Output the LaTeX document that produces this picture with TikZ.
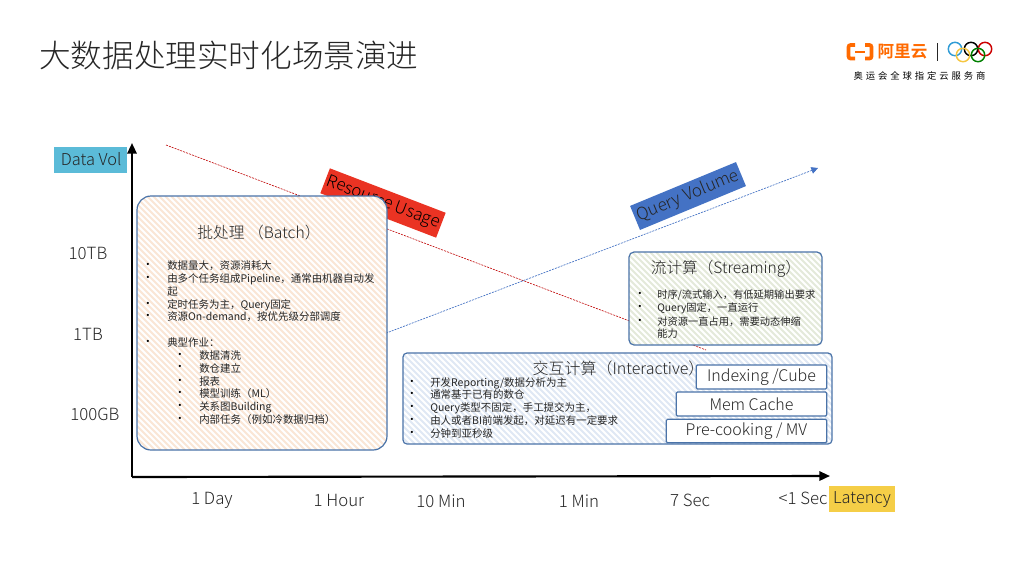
\documentclass[tikz,border=0pt]{standalone}
\usepackage{fontspec}
\setmainfont{Noto Sans CJK SC Light}
\newfontfamily\boldcjk{Noto Sans CJK SC Bold}
\newfontfamily\regcjk{Noto Sans CJK SC}
\usetikzlibrary{arrows.meta}
\definecolor{boxline}{HTML}{4A73A8}
\definecolor{cyanlab}{HTML}{5BBBD8}
\definecolor{yellab}{HTML}{F5CE47}
\definecolor{redlab}{HTML}{EA3323}
\definecolor{bluelab}{HTML}{4472C4}
\definecolor{orng}{HTML}{FF6A00}
\definecolor{txt}{HTML}{262626}
\definecolor{hbatch}{HTML}{FAE6D6}
\definecolor{hinter}{HTML}{E0E8F4}
\definecolor{hstream}{HTML}{E4E9DA}
\tikzset{
  x=0.75pt,y=-0.75pt,
  lab/.style={inner sep=0,text=txt,font=\fontsize{12.6}{13}\selectfont,anchor=center,yshift=-1.2pt},
  ttl/.style={inner sep=0,text=txt,font=\fontsize{12}{13}\selectfont,anchor=center,yshift=-1pt},
  ln/.style={inner sep=0,text=txt,font=\regcjk\fontsize{7.85}{8}\selectfont,anchor=west},
  bul/.style={inner sep=0,text=black,font=\regcjk\fontsize{8}{8}\selectfont,anchor=center},
  tag/.style={inner sep=0,minimum width=#1*0.75pt,minimum height=19.5pt,text=txt,font=\fontsize{12.3}{13}\selectfont,anchor=center},
  tagbox/.style={draw=boxline,line width=0.9pt,fill=white,rounded corners=1pt,inner sep=0,text=txt,font=\fontsize{12}{13}\selectfont},
  panel/.style={draw=boxline,line width=0.9pt},
  axis/.style={draw=black,line width=1.6pt,-{Triangle[length=8pt,width=7pt]}},
  ring/.style={line width=1.1pt},
}
\newcommand{\hatchbox}[6]{% x1,y1,x2,y2,radius,colour
  \begin{scope}
    \path[clip,rounded corners=#5*0.75pt] (#1,#2) rectangle (#3,#4);
    \fill[white] (#1,#2) rectangle (#3,#4);
    \pgfmathsetmacro{\hs}{#1-(#4-#2)}
    \foreach \k in {0,6,...,800}{
      \draw[#6,line width=1.4pt] (\hs+\k,#2) -- (\hs+\k+#4-#2,#4);
    }
  \end{scope}
  \draw[panel,rounded corners=#5*0.75pt] (#1,#2) rectangle (#3,#4);
}
\begin{document}
\begin{tikzpicture}
\useasboundingbox (0,0) rectangle (1024,576);
\fill[white] (0,0) rectangle (1024,576);

\node[inner sep=0,anchor=west,text=txt,font=\fontsize{23.7}{25}\selectfont] (title) at (39,55) {大数据处理实时化场景演进};

% logo
\draw[orng,line width=2.8pt,rounded corners=1.6pt] (855,45) -- (848.5,45) -- (848.5,58.5) -- (855,58.5);
\draw[orng,line width=2.8pt,rounded corners=1.6pt] (865,45) -- (871.5,45) -- (871.5,58.5) -- (865,58.5);
\draw[orng,line width=1.5pt] (855,52) -- (865,52);
\node[inner sep=0,text=orng,font=\boldcjk\fontsize{12.4}{13}\selectfont] (ali) at (902.5,52) {阿里云};
\draw[black!85,line width=0.7pt] (937,43) -- (937,61);
\draw[ring,color=bluelab!70!cyan] (955,49) circle (6.7);
\draw[ring,color=black] (971,49) circle (6.7);
\draw[ring,color=red!80!black] (985,49) circle (6.7);
\draw[ring,color=yellab!90!orange] (963,55) circle (6.7);
\draw[ring,color=green!50!black] (978,55) circle (6.7);
\node[inner sep=0,text=black,font=\regcjk\fontsize{7}{8}\selectfont] (sub) at (919.5,75.5) {奥\hspace{2.2pt}运\hspace{2.2pt}会\hspace{2.2pt}全\hspace{2.2pt}球\hspace{2.2pt}指\hspace{2.2pt}定\hspace{2.2pt}云\hspace{2.2pt}服\hspace{2.2pt}务\hspace{2.2pt}商};

% trend lines and their tags (behind the panels)
\coordinate (rs) at (166,145);
\coordinate (re) at (706,350);
\coordinate (bs) at (300,366);
\coordinate (be) at (818,168);
\node[rotate=-21,fill=redlab,minimum width=93pt,minimum height=20pt,inner sep=0,text=black,font=\fontsize{12.6}{13}\selectfont] (rtag) at (383,203) {\raisebox{-1.6pt}{Resource Usage}};
\draw[red!75!black,line width=0.45pt,dash pattern=on 1.5pt off 0.8pt] (rs) -- (re);
\draw[bluelab,line width=0.5pt,dash pattern=on 1.5pt off 0.8pt,-{Triangle[length=5pt,width=5pt]}] (bs) -- (be);
\node[rotate=22.5,fill=bluelab,minimum width=86pt,minimum height=19.5pt,inner sep=0,text=txt,font=\fontsize{12.8}{13}\selectfont] (btag) at (688,196) {Query Volume};

% axes
\coordinate (org) at (132,477);
\coordinate (yend) at (132,143);
\coordinate (xend) at (830,476);
\draw[axis] (org) -- (yend);
\draw[axis] (org) -- (xend);

% axis tags
\node[tag=73,fill=cyanlab] (dv) at (90.5,159.5) {\hspace{1pt}Data Vol};
\node[tag=66,fill=yellab,minimum height=20pt] (lat) at (862,499) {\raisebox{-1pt}{Latency}};

\node[lab] (a) at (88,252) {10TB};
\node[lab] (b) at (88,333) {1TB};
\node[lab] (c) at (95,413) {100GB};
\node[lab] (d) at (212,499) {1 Day};
\node[lab] (e) at (339,499) {1 Hour};
\node[lab] (f) at (441,500) {10 Min};
\node[lab] (g) at (579,500) {1 Min};
\node[lab] (h) at (690,499) {7 Sec};
\node[lab] (i) at (803,497) {<1 Sec};

% batch panel
\hatchbox{137}{196}{387}{450}{14}{hbatch}
\node[ttl,font=\fontsize{11.8}{13}\selectfont] (t1) at (259,231) {批处理 （Batch）};
\foreach \yy in {266,279,305,317,343}{\node[bul] at (148,\yy) {•};}
\foreach \yy in {356,368,382,394,407,420}{\node[bul] at (180,\yy) {•};}
\node[ln] (b1) at (167,266) {数据量大，资源消耗大};
\node[ln] (b2) at (167,279) {由多个任务组成Pipeline，通常由机器自动发};
\node[ln] (b3) at (167,292) {起};
\node[ln] (b4) at (167,305) {定时任务为主，Query固定};
\node[ln] (b5) at (167,317) {资源On-demand，按优先级分部调度};
\node[ln] (b6) at (167,343) {典型作业：};
\node[ln] (b7) at (199,356) {数据清洗};
\node[ln] (b8) at (199,368) {数仓建立};
\node[ln] (b9) at (199,382) {报表};
\node[ln] (b10) at (199,394) {模型训练（ML）};
\node[ln] (b11) at (199,407) {关系图Building};
\node[ln] (b12) at (199,420) {内部任务（例如冷数据归档）};

% streaming panel
\hatchbox{629}{252}{822}{345}{5}{hstream}
\node[ttl,font=\fontsize{11.7}{13}\selectfont] (t2) at (726,267) {流计算（Streaming）};
\foreach \yy in {295,308,322}{\node[bul] at (640,\yy) {•};}
\node[ln,font=\regcjk\fontsize{7.7}{8}\selectfont] (s1) at (657,295) {时序/流式输入，有低延期输出要求};
\node[ln,font=\regcjk\fontsize{7.7}{8}\selectfont] (s2) at (657,308) {Query固定，一直运行};
\node[ln,font=\regcjk\fontsize{7.7}{8}\selectfont] (s3) at (657,322) {对资源一直占用，需要动态伸缩};
\node[ln,font=\regcjk\fontsize{7.7}{8}\selectfont] (s4) at (657,334) {能力};

% interactive panel
\hatchbox{403}{353}{832}{444}{4}{hinter}
\node[ttl] (t3) at (618.5,367) {交互计算（Interactive）};
\foreach \yy in {383,395,408,421,434}{\node[bul] at (412,\yy) {•};}
\node[ln] (i1) at (430,383) {开发Reporting/数据分析为主};
\node[ln] (i2) at (430,395) {通常基于已有的数仓};
\node[ln] (i3) at (430,408) {Query类型不固定，手工提交为主，};
\node[ln] (i4) at (430,421) {由人或者BI前端发起，对延迟有一定要求};
\node[ln] (i5) at (430,434) {分钟到亚秒级};

\node[tagbox,minimum width=98pt,minimum height=18pt] (ix) at (761.5,377) {\raisebox{-1.3pt}{Indexing /Cube}};
\node[tagbox,minimum width=113pt,minimum height=18pt] (mc) at (751.5,404) {\raisebox{-1.3pt}{Mem Cache}};
\node[tagbox,minimum width=120.5pt,minimum height=17.5pt] (pc) at (746.5,431) {\raisebox{-1.6pt}{Pre-cooking / MV}};
\end{tikzpicture}
\end{document}
